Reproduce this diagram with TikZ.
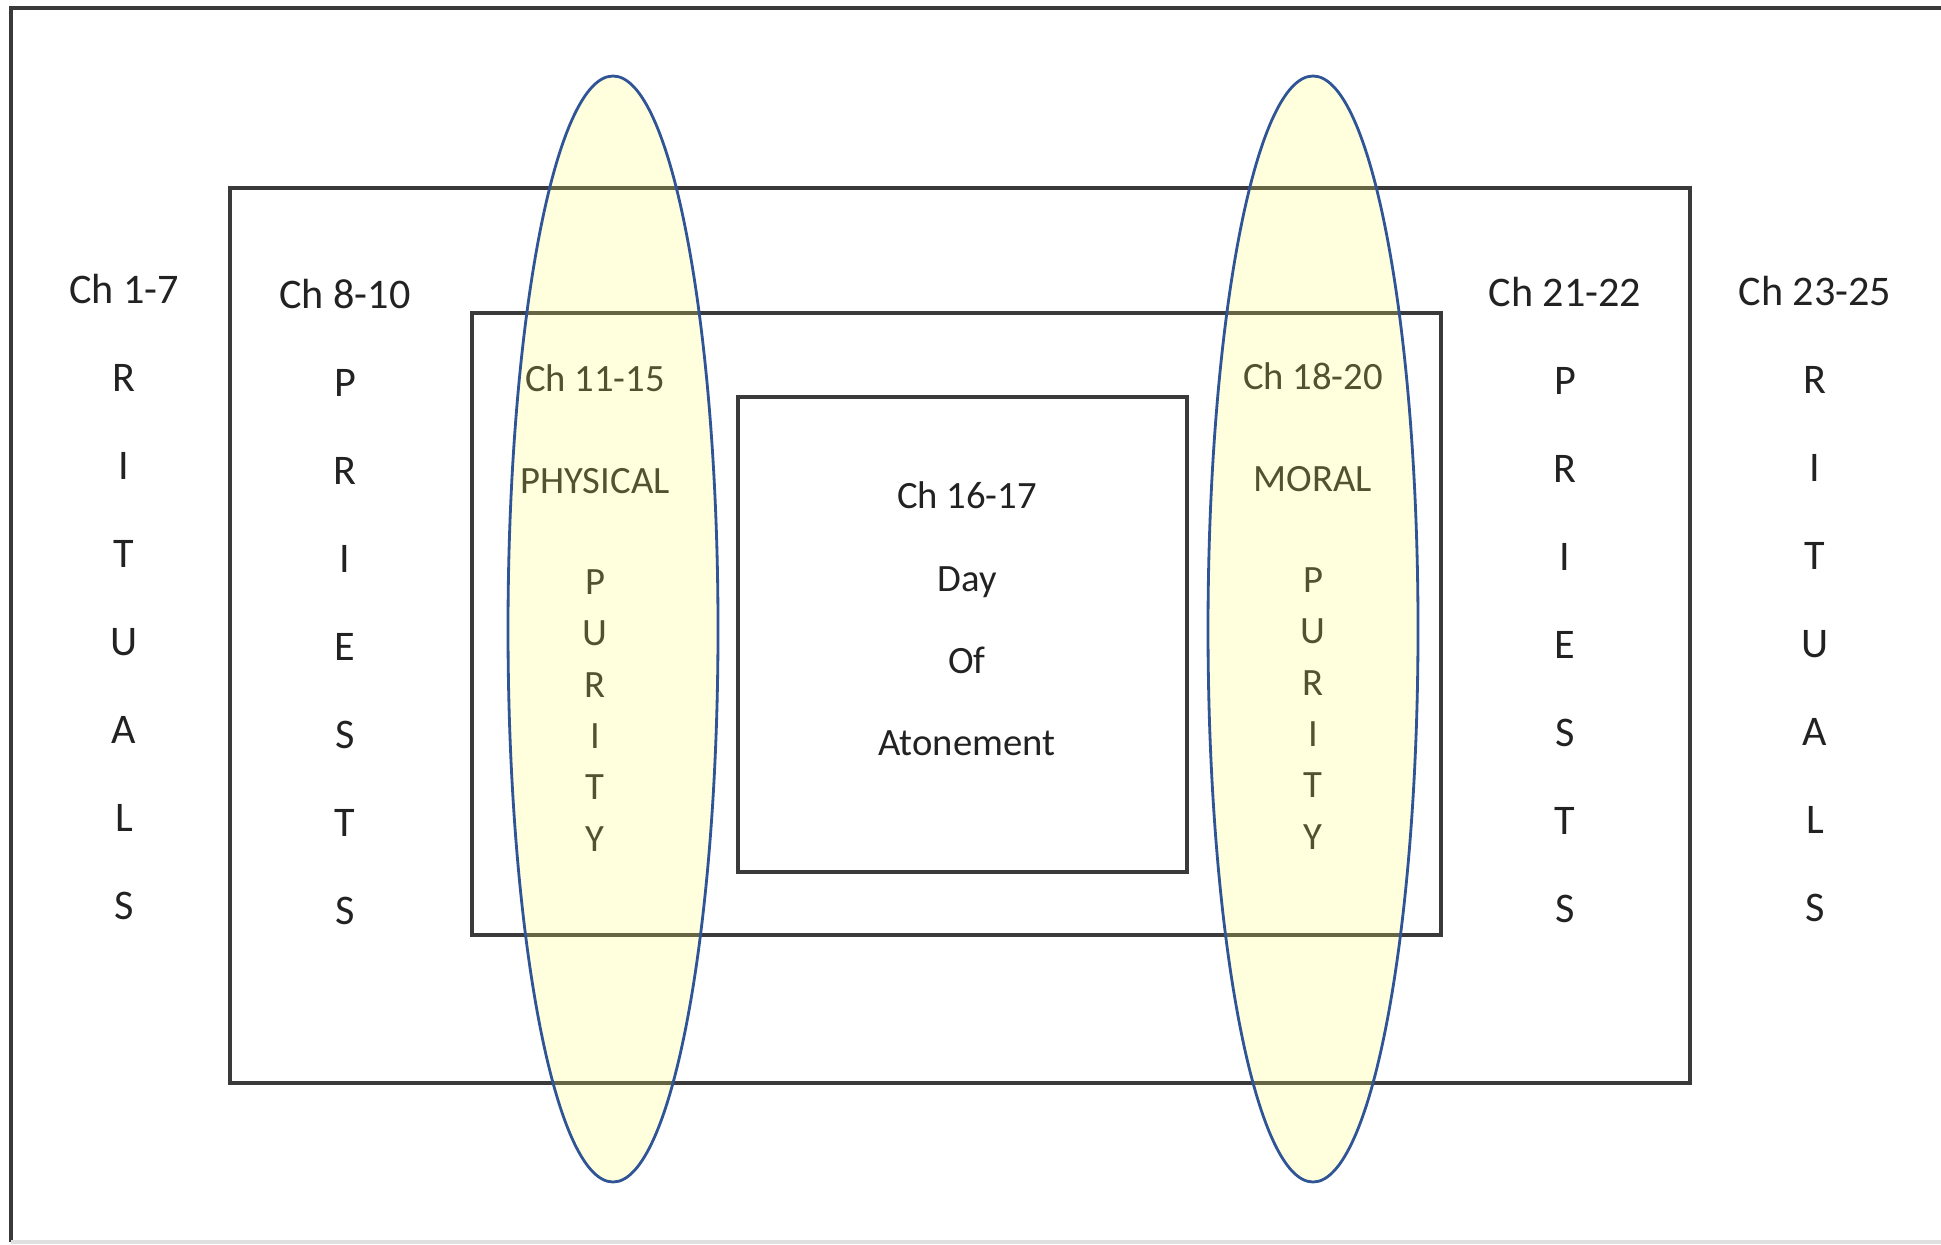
\documentclass[tikz,border=0pt]{standalone}
\usepackage{fontspec}
\setmainfont{Carlito}
\usetikzlibrary{calc}

\definecolor{boxline}{HTML}{3A3A3A}
\definecolor{ovalline}{HTML}{2F5597}
\definecolor{ovalfill}{RGB}{255,255,100}
\definecolor{textgray}{HTML}{222222}

\tikzset{
    box/.style={draw=boxline, line width=1pt},
    oval/.style={draw=ovalline, line width=0.8pt, fill=ovalfill, fill opacity=0.22, draw opacity=1},
    outercol/.style={align=center, inner sep=0pt, text=textgray,
        font=\fontsize{12}{25}\selectfont},
    innercol/.style={align=center, inner sep=0pt, text=textgray,
        font=\fontsize{11}{14.6}\selectfont},
    middlecol/.style={align=center, inner sep=0pt, text=textgray,
        font=\fontsize{11}{23.4}\selectfont}
}

\begin{document}
\begin{tikzpicture}[x=1cm, y=-1cm]
    \useasboundingbox (0,0) rectangle (19.41,12.44);

    % frame
    \coordinate (TL) at (0.11,0.08);
    \draw[boxline, line width=1.2pt] (19.41,0.08) -- (TL) -- (0.11,12.42);
    \draw[black!12, line width=1pt] (0.11,12.42) -- (19.41,12.42);

    % nested boxes
    \coordinate (A1) at (2.30,1.88);
    \coordinate (B1) at (16.90,10.83);
    \coordinate (A2) at (4.72,3.13);
    \coordinate (B2) at (14.41,9.35);
    \coordinate (A3) at (7.38,3.97);
    \coordinate (B3) at (11.87,8.72);

    \draw[box] (A1) rectangle (B1);
    \draw[box] (A2) rectangle (B2);
    \draw[box] (A3) rectangle (B3);

    % chapter columns
    \node[outercol] (rit-left) at (1.24,5.97)
        {Ch 1-7\\R\\I\\T\\U\\A\\L\\S};
    \node[outercol] (pri-left) at (3.45,6.02)
        {Ch 8-10\\P\\R\\I\\E\\S\\T\\S};
    \node[innercol] (phys) at (5.95,6.08)
        {Ch 11-15\\[0.5cm]PHYSICAL\\[0.5cm]P\\U\\R\\I\\T\\Y};
    \node[middlecol] (atone) at (9.67,6.19)
        {Ch 16-17\\Day\\Of\\Atonement};
    \node[innercol] (moral) at (13.13,6.06)
        {Ch 18-20\\[0.5cm]MORAL\\[0.5cm]P\\U\\R\\I\\T\\Y};
    \node[outercol] (pri-right) at (15.65,6.00)
        {Ch 21-22\\P\\R\\I\\E\\S\\T\\S};
    \node[outercol] (rit-right) at (18.15,5.99)
        {Ch 23-25\\R\\I\\T\\U\\A\\L\\S};

    % purity ovals
    \draw[oval] (6.13,6.29) ellipse (1.05 and 5.53);
    \draw[oval] (13.13,6.29) ellipse (1.05 and 5.53);
\end{tikzpicture}
\end{document}
